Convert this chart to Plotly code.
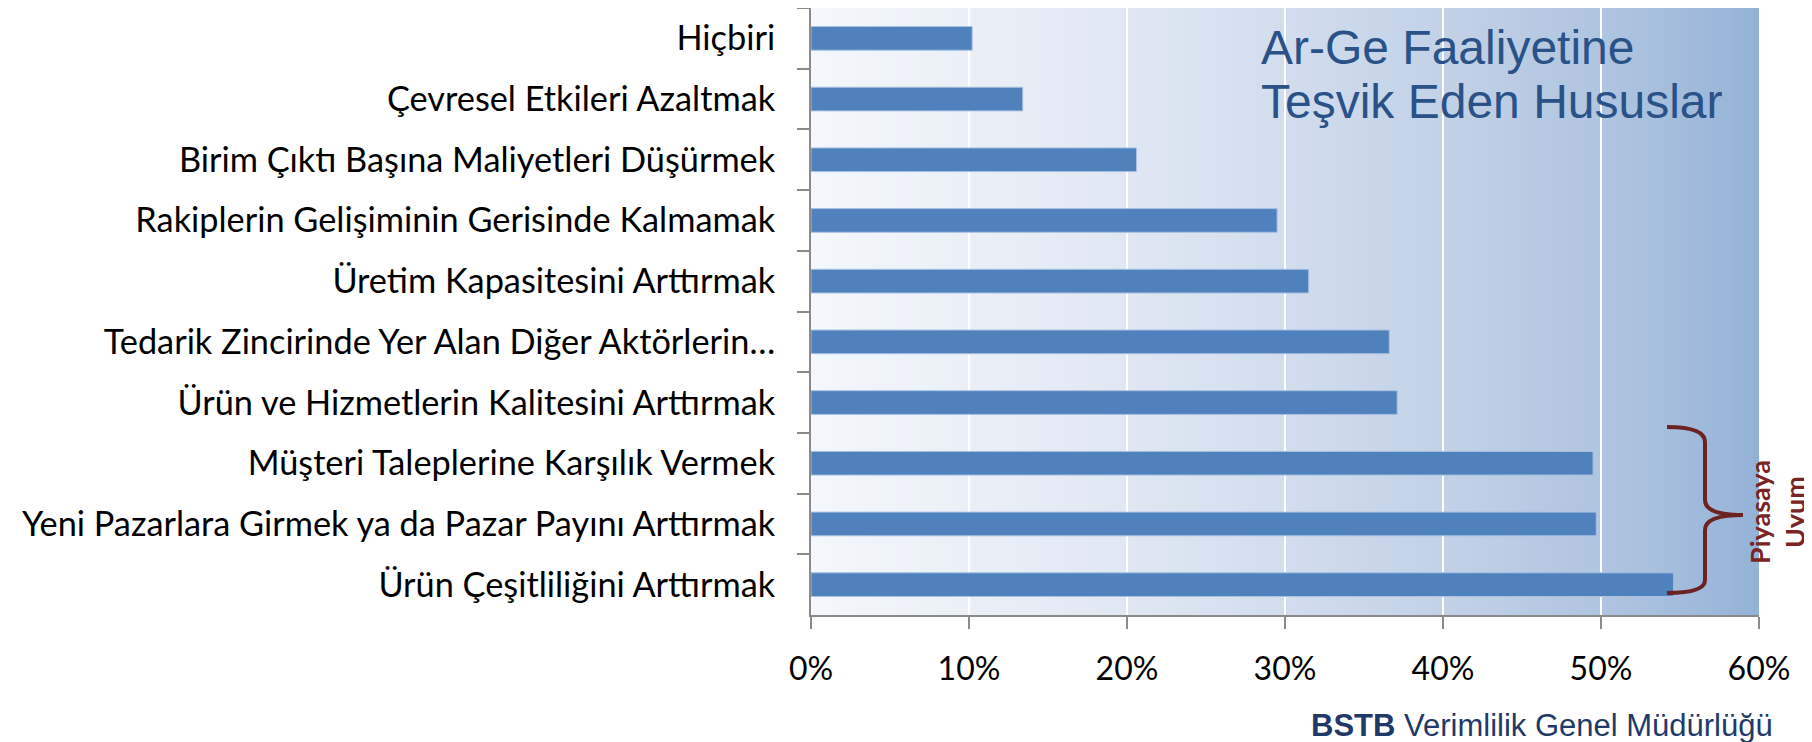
import plotly.graph_objects as go

# ---- data (top-to-bottom order as shown) ----
categories = [
    "Hiçbiri",
    "Çevresel Etkileri Azaltmak",
    "Birim Çıktı Başına Maliyetleri Düşürmek",
    "Rakiplerin Gelişiminin Gerisinde Kalmamak",
    "Üretim Kapasitesini Arttırmak",
    "Tedarik Zincirinde Yer Alan Diğer Aktörlerin…",
    "Ürün ve Hizmetlerin Kalitesini Arttırmak",
    "Müşteri Taleplerine Karşılık Vermek",
    "Yeni Pazarlara Girmek ya da Pazar Payını Arttırmak",
    "Ürün Çeşitliliğini Arttırmak",
]
values = [0.102, 0.134, 0.206, 0.295, 0.315, 0.366, 0.371, 0.495, 0.497, 0.546]
x_ticks = [0, 0.1, 0.2, 0.3, 0.4, 0.5, 0.6]
title_lines = ["Ar-Ge Faaliyetine", "Teşvik Eden Hususlar"]
bracket_text = "Piyasaya<br>Uyum"
footer_text = "<b>BSTB</b> Verimlilik Genel Müdürlüğü"

# ---- layout geometry ----
OFF = 8                      # page body margin offset
W, H = 1812 - OFF, 742 - OFF
L, R, T, B = 803, 53, 0, 127
PW, PH = W - L - R, H - T - B


def px(xs):  # screen px -> paper
    return (xs - OFF - L) / PW


def py(ys):
    return (H - B - (ys - OFF)) / PH


fig = go.Figure()
fig.add_trace(go.Bar(
    x=values, y=categories, orientation="h",
    marker=dict(color="#4f81bd", line=dict(color="#a9c1e2", width=1)),
    hoverinfo="x+y",
))

# ---- gradient background (strips, below gridlines) ----
stops = [(0.0, (244, 247, 252)), (0.25, (230, 236, 245)), (0.52, (208, 220, 237)),
         (0.73, (188, 205, 228)), (0.885, (169, 192, 222)), (1.0, (148, 178, 215))]


def grad(f):
    for (f0, c0), (f1, c1) in zip(stops[:-1], stops[1:]):
        if f0 <= f <= f1:
            t = (f - f0) / (f1 - f0)
            return tuple(round(a + (b - a) * t) for a, b in zip(c0, c1))
    return stops[-1][1]


shapes = []
N = 190
for i in range(N):
    f0, f1 = i / N, (i + 1) / N
    c = grad((f0 + f1) / 2)
    shapes.append(dict(type="rect", xref="x domain", yref="y domain",
                       x0=f0, x1=min(1.0, f1 + 0.002), y0=0, y1=1,
                       fillcolor="rgb(%d,%d,%d)" % c, line=dict(width=0),
                       layer="below"))

# ---- brace ----
pts = [(1667, 427), (1705, 427), (1705, 442), (1705, 500), (1705, 515), (1743, 515),
       (1705, 515), (1705, 530), (1705, 580), (1705, 593), (1667, 593)]
p = [(px(a), py(b)) for a, b in pts]
path = ("M {0[0]},{0[1]} Q {1[0]},{1[1]} {2[0]},{2[1]} L {3[0]},{3[1]} "
        "Q {4[0]},{4[1]} {5[0]},{5[1]} Q {6[0]},{6[1]} {7[0]},{7[1]} "
        "L {8[0]},{8[1]} Q {9[0]},{9[1]} {10[0]},{10[1]}").format(*p)
shapes.append(dict(type="path", xref="paper", yref="paper", path=path,
                   line=dict(color="#6d2222", width=4), layer="above"))

title_font = dict(family="Liberation Sans, Arial, sans-serif", size=48, color="#2a5288")
annotations = [
    dict(text=title_lines[0], xref="paper", yref="paper", x=px(1259), y=py(48),
         xanchor="left", yanchor="middle", align="left", showarrow=False, font=title_font),
    dict(text=title_lines[1], xref="paper", yref="paper", x=px(1259), y=py(101),
         xanchor="left", yanchor="middle", align="left", showarrow=False, font=title_font),
    dict(text=bracket_text, xref="paper", yref="paper", x=px(1777), y=py(512),
         xanchor="center", yanchor="middle", textangle=-90, showarrow=False,
         font=dict(family="Lato, sans-serif", size=27, color="#7a2424", weight="bold")),
    dict(text=footer_text, xref="paper", yref="paper", x=px(1775), y=py(725),
         xanchor="right", yanchor="middle", showarrow=False,
         font=dict(family="Liberation Sans, Arial, sans-serif", size=31, color="#1f3a68")),
]

fig.update_layout(
    width=W, height=H,
    margin=dict(l=L, r=R, t=T, b=B, pad=0, autoexpand=False),
    paper_bgcolor="white", plot_bgcolor="white",
    showlegend=False, bargap=0.61,
    shapes=shapes, annotations=annotations,
    font=dict(family="Lato, Open Sans, sans-serif", color="black"),
    xaxis=dict(range=[0, 0.6], tickvals=x_ticks, tickformat=".0%",
               showgrid=True, gridcolor="white", gridwidth=2,
               showline=True, linecolor="#8a8a8a", linewidth=2,
               ticks="outside", ticklen=12, tickwidth=2, tickcolor="#8a8a8a",
               tickfont=dict(size=32, family="Lato, sans-serif", color="black"),
               ticklabelstandoff=13, zeroline=False, fixedrange=True,
               automargin=False),
    yaxis=dict(autorange="reversed", type="category",
               showline=True, linecolor="#8a8a8a", linewidth=2,
               ticks="outside", ticklen=12, tickwidth=2, tickcolor="#8a8a8a",
               tickson="boundaries", showgrid=False,
               tickfont=dict(size=34.3, family="Lato, sans-serif", color="black"),
               ticklabelstandoff=27, fixedrange=True, automargin=False),
)

fig.write_html("out.html")
